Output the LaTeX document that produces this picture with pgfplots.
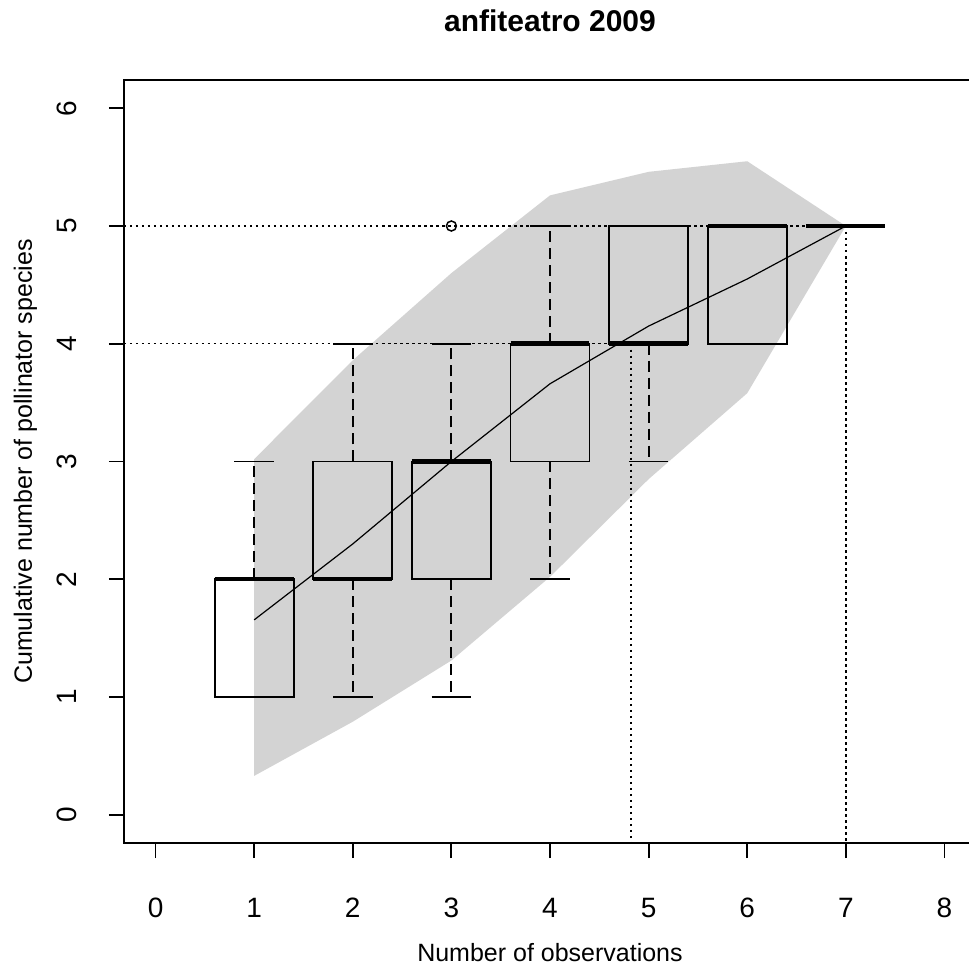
\documentclass[border=0pt]{standalone}
\usepackage{pgfplots}
\pgfplotsset{compat=1.18}
\usepackage{fontspec}
\setmainfont{Liberation Sans}
\definecolor{rgrey}{RGB}{211,211,211}
\begin{document}
\begin{tikzpicture}
\begin{axis}[
  scale only axis, width=852pt, height=763pt,
  at={(0,0)}, anchor=south west,
  xmin=-0.32, xmax=8.32, ymin=-0.24, ymax=6.24,
  xtick={0,1,2,3,4,5,6,7,8}, ytick={0,1,2,3,4,5,6},
  tick align=outside, xtick pos=bottom, ytick pos=left,
  major tick length=15pt,
  tick style={line width=1.8pt, black},
  axis line style={line width=1.8pt},
  /pgf/number format/assume math mode=true,
  ticklabel style={font=\fontsize{28}{32}\selectfont},
  xticklabel style={anchor=base, yshift=-59pt},
  yticklabel style={xshift=-32pt, rotate=90, anchor=base},
  title={anfiteatro 2009},
  every axis title/.style={at={(axis description cs:0.5,1)}, yshift=48pt, anchor=base, font=\bfseries\fontsize{30}{36}\selectfont},
  xlabel={Number of observations},
  every axis x label/.style={at={(axis description cs:0.5,0)}, yshift=-118pt, anchor=base, font=\fontsize{25}{30}\selectfont},
  ylabel={Cumulative number of pollinator species},
  every axis y label/.style={at={(axis description cs:0,0.5)}, xshift=-92pt, rotate=90, anchor=base, font=\fontsize{25}{30}\selectfont},
  clip=true,
]
% grey envelope
\addplot[fill=rgrey, draw=none] coordinates {
 (1,3.02) (2,3.86) (3,4.60) (4,5.26) (5,5.46) (6,5.55) (7,5.0)
 (6,3.58) (5,2.85) (4,2.02) (3,1.31) (2,0.79) (1,0.33)
} -- cycle;
% mean line
\addplot[black, line width=1.2pt] coordinates {
 (1,1.655) (2,2.30) (3,3.00) (4,3.66) (5,4.15) (6,4.55) (7,5.00)
};
% dotted reference lines
\addplot[black, line width=1.5pt, dash pattern=on 2.5pt off 3.5pt] coordinates {(-0.32,5) (7,5)};
\addplot[black, line width=1.5pt, dash pattern=on 2.5pt off 3.5pt] coordinates {(-0.32,4) (4.82,4)};
\addplot[black, line width=1.5pt, dash pattern=on 2.5pt off 3.5pt] coordinates {(4.82,4) (4.82,-0.24)};
\addplot[black, line width=1.5pt, dash pattern=on 2.5pt off 3.5pt] coordinates {(7,5) (7,-0.24)};
% boxes
\addplot[black, line width=1.8pt] coordinates {(0.6,1) (1.4,1) (1.4,2) (0.6,2)} -- cycle;
\addplot[black, line width=1.8pt] coordinates {(1.6,2) (2.4,2) (2.4,3) (1.6,3)} -- cycle;
\addplot[black, line width=1.8pt] coordinates {(2.6,2) (3.4,2) (3.4,3) (2.6,3)} -- cycle;
\addplot[black, line width=1.8pt] coordinates {(3.6,3) (4.4,3) (4.4,4) (3.6,4)} -- cycle;
\addplot[black, line width=1.8pt] coordinates {(4.6,4) (5.4,4) (5.4,5) (4.6,5)} -- cycle;
\addplot[black, line width=1.8pt] coordinates {(5.6,4) (6.4,4) (6.4,5) (5.6,5)} -- cycle;
% whiskers (dashed)
\addplot[black, line width=1.8pt, dash pattern=on 11pt off 6pt] coordinates {(1,2) (1,3)};
\addplot[black, line width=1.8pt, dash pattern=on 11pt off 6pt] coordinates {(2,3) (2,4)};
\addplot[black, line width=1.8pt, dash pattern=on 11pt off 6pt] coordinates {(2,2) (2,1)};
\addplot[black, line width=1.8pt, dash pattern=on 11pt off 6pt] coordinates {(3,3) (3,4)};
\addplot[black, line width=1.8pt, dash pattern=on 11pt off 6pt] coordinates {(3,2) (3,1)};
\addplot[black, line width=1.8pt, dash pattern=on 11pt off 6pt] coordinates {(4,4) (4,5)};
\addplot[black, line width=1.8pt, dash pattern=on 11pt off 6pt] coordinates {(4,3) (4,2)};
\addplot[black, line width=1.8pt, dash pattern=on 11pt off 6pt] coordinates {(5,4) (5,3)};
% caps
\addplot[black, line width=1.8pt] coordinates {(0.8,3) (1.2,3)};
\addplot[black, line width=1.8pt] coordinates {(0.8,1) (1.2,1)};
\addplot[black, line width=1.8pt] coordinates {(1.8,4) (2.2,4)};
\addplot[black, line width=1.8pt] coordinates {(1.8,1) (2.2,1)};
\addplot[black, line width=1.8pt] coordinates {(2.8,4) (3.2,4)};
\addplot[black, line width=1.8pt] coordinates {(2.8,1) (3.2,1)};
\addplot[black, line width=1.8pt] coordinates {(3.8,5) (4.2,5)};
\addplot[black, line width=1.8pt] coordinates {(3.8,2) (4.2,2)};
\addplot[black, line width=1.8pt] coordinates {(4.8,5) (5.2,5)};
\addplot[black, line width=1.8pt] coordinates {(4.8,3) (5.2,3)};
\addplot[black, line width=1.8pt] coordinates {(5.8,5) (6.2,5)};
\addplot[black, line width=1.8pt] coordinates {(5.8,4) (6.2,4)};
\addplot[black, line width=1.8pt] coordinates {(6.8,5) (7.2,5)};
% medians
\addplot[black, line width=4.5pt] coordinates {(0.6,2) (1.4,2)};
\addplot[black, line width=4.5pt] coordinates {(1.6,2) (2.4,2)};
\addplot[black, line width=4.5pt] coordinates {(2.6,3) (3.4,3)};
\addplot[black, line width=4.5pt] coordinates {(3.6,4) (4.4,4)};
\addplot[black, line width=4.5pt] coordinates {(4.6,4) (5.4,4)};
\addplot[black, line width=4.5pt] coordinates {(5.6,5) (6.4,5)};
\addplot[black, line width=4.5pt] coordinates {(6.6,5) (7.4,5)};
% outlier
\addplot[black, only marks, mark=o, mark size=5pt, mark options={line width=1.5pt}] coordinates {(3,5)};
\end{axis}
\pgfresetboundingbox
\path[use as bounding box] (-124pt,-127pt) rectangle (845pt,843pt);
\end{tikzpicture}
\end{document}
